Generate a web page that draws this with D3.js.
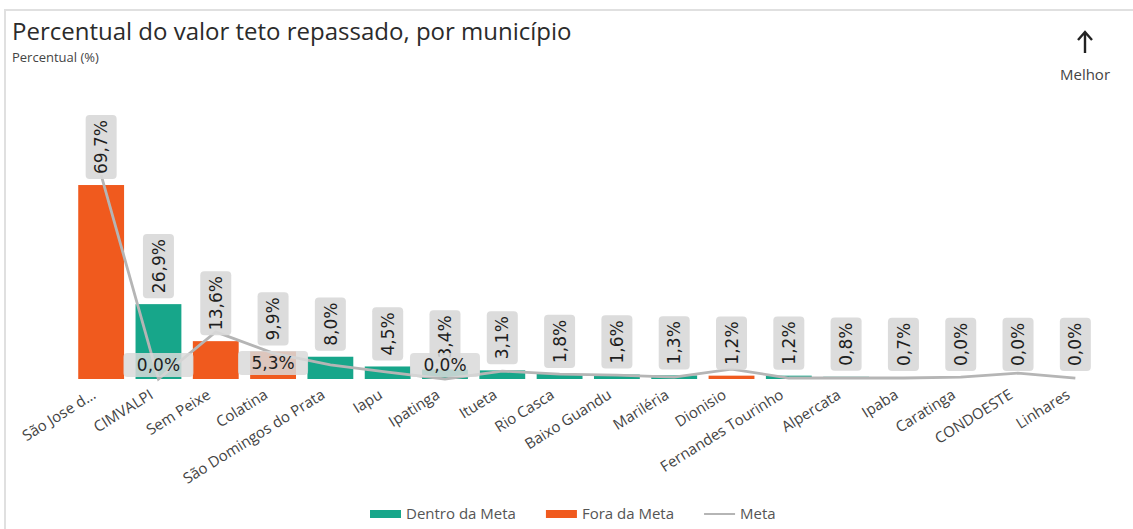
<!DOCTYPE html>
<html>
<head>
<meta charset="utf-8">
<script src="https://cdn.jsdelivr.net/npm/d3@7"></script>
<style>
  body { margin: 0; background: #fff; }
  svg { display: block; }
</style>
</head>
<body>
<div id="chart"></div>
<script>
// dados
const municipios = ["São Jose d...", "CIMVALPI", "Sem Peixe", "Colatina", "São Domingos do Prata", "Iapu",
  "Ipatinga", "Itueta", "Rio Casca", "Baixo Guandu", "Mariléria", "Dionisio", "Fernandes Tourinho",
  "Alpercata", "Ipaba", "Caratinga", "CONDOESTE", "Linhares"];
const percentual = [69.7, 26.9, 13.6, 9.9, 8.0, 4.5, 3.4, 3.1, 1.8, 1.6, 1.3, 1.2, 1.2, 0.8, 0.7, 0.0, 0.0, 0.0];
const situacao = ["Fora", "Dentro", "Fora", "Fora", "Dentro", "Dentro", "Dentro", "Dentro", "Dentro", "Dentro",
  "Dentro", "Fora", "Dentro", "Dentro", "Fora", "Dentro", "Dentro", "Dentro"];
const meta = [41.6, 0.0, 9.6, 5.3, 2.9, 1.4, 0.0, 1.6, 1.0, 0.8, 0.4, 2.0, 0.2, 0.2, 0.2, 0.4, 1.2, 0.2];
const metaRotulos = [1, 3, 6]; // pontos da meta que mostram rótulo
const legenda = [{key: "Dentro da Meta", tipo: "Dentro"}, {key: "Fora da Meta", tipo: "Fora"}, {key: "Meta", tipo: "linha"}];

const cores = {Dentro: "#17a68a", Fora: "#f05a1e", linha: "#b5b5b5"};
const width = 1133, height = 529;
const base = 379;
const fmt = v => d3.format(".1f")(v).replace(".", ",") + "%";

const svg = d3.select("#chart").append("svg")
  .attr("width", width).attr("height", height);

// moldura
svg.append("path")
  .attr("d", `M5,${height} V10 H${width}`)
  .attr("fill", "none").attr("stroke", "#e0e0e0").attr("stroke-width", 2);

// títulos
svg.append("text").attr("x", 12).attr("y", 40)
  .style("font-family", "Open Sans").style("font-size", "24px").style("fill", "#2b2b2b")
  .text("Percentual do valor teto repassado, por município");
svg.append("text").attr("x", 12).attr("y", 62)
  .style("font-family", "Open Sans").style("font-size", "13px").style("fill", "#444")
  .text("Percentual (%)");

// seta "Melhor"
svg.append("path").attr("d", "M1085,53 V33 M1078,40 L1085,32 L1092,40")
  .attr("fill", "none").attr("stroke", "#222").attr("stroke-width", 2.4);
svg.append("text").attr("x", 1085).attr("y", 80).attr("text-anchor", "middle")
  .style("font-family", "Open Sans").style("font-size", "15px").style("fill", "#444")
  .text("Melhor");

// escalas
const x = d3.scaleBand().domain(municipios).range([72.5, 1104]).paddingInner(0.2).paddingOuter(0.1);
const y = d3.scaleLinear().domain([0, 80]).range([base, base - 80 * 2.783]);
const yMeta = d3.scaleLinear().domain([0, 10]).range([base, base - 49]);
const cx = d => x(d) + x.bandwidth() / 2;

// barras
svg.append("g").selectAll("rect").data(municipios).join("rect")
  .attr("x", d => x(d)).attr("width", x.bandwidth())
  .attr("y", (d, i) => y(percentual[i]))
  .attr("height", (d, i) => base - y(percentual[i]))
  .attr("fill", (d, i) => cores[situacao[i]]);

// eixo x
const eixo = svg.append("g").attr("transform", `translate(0,${base})`)
  .call(d3.axisBottom(x).tickSize(0).tickPadding(0));
eixo.select(".domain").remove();
eixo.selectAll("text")
  .attr("transform", "translate(-7,14) rotate(-32)")
  .attr("text-anchor", "end").attr("dy", "0.35em").attr("y", 0).attr("x", 0)
  .style("font-family", "Open Sans").style("font-size", "15px").style("fill", "#444");

// linha da meta
const linha = d3.line().x(d => cx(d)).y((d, i) => yMeta(meta[i]));
svg.append("path").datum(municipios)
  .attr("d", linha)
  .attr("fill", "none").attr("stroke", cores.linha).attr("stroke-width", 2.8);

// rótulos das barras (verticais)
const rot = svg.append("g").selectAll("g").data(municipios).join("g")
  .attr("transform", (d, i) => `translate(${cx(d)},${Math.min(y(percentual[i]), base - 2) - 6}) rotate(-90)`);
rot.append("text")
  .attr("x", 5).attr("y", 0).attr("dy", "0.36em")
  .style("font-family", "DejaVu Sans").style("font-size", "17px").style("fill", "#1e1e1e")
  .text((d, i) => fmt(percentual[i]));
rot.each(function () {
  const g = d3.select(this), b = g.select("text").node().getBBox();
  g.insert("rect", "text")
    .attr("x", b.x - 5).attr("y", -15.5).attr("width", b.width + 10).attr("height", 31)
    .attr("rx", 4).attr("fill", "#d9d9d9").attr("opacity", 0.92);
});

// rótulos da meta
const rm = svg.append("g").selectAll("g").data(metaRotulos).join("g")
  .attr("transform", i => `translate(${cx(municipios[i])},${Math.min(yMeta(meta[i]) + 10, 365)})`);
rm.append("rect")
  .attr("x", -35).attr("y", -12).attr("width", 70).attr("height", 24)
  .attr("rx", 4).attr("fill", "#d9d9d9").attr("opacity", 0.85);
rm.append("text").attr("text-anchor", "middle").attr("dy", "0.36em")
  .style("font-family", "DejaVu Sans").style("font-size", "17px").style("fill", "#1e1e1e")
  .text(i => fmt(meta[i]));

// legenda
const leg = svg.append("g").attr("transform", "translate(370,514)");
let lx = 0;
legenda.forEach(d => {
  const g = leg.append("g").attr("transform", `translate(${lx},0)`);
  if (d.tipo === "linha") {
    g.append("line").attr("x1", 0).attr("x2", 31).attr("y1", 0).attr("y2", 0)
      .attr("stroke", cores.linha).attr("stroke-width", 2);
  } else {
    g.append("rect").attr("x", 0).attr("y", -4).attr("width", 31).attr("height", 8).attr("fill", cores[d.tipo]);
  }
  const t = g.append("text").attr("x", 36).attr("dy", "0.35em")
    .style("font-family", "Open Sans").style("font-size", "15px").style("fill", "#555")
    .text(d.key);
  lx += 36 + t.node().getComputedTextLength() + 30;
});
</script>
</body>
</html>
